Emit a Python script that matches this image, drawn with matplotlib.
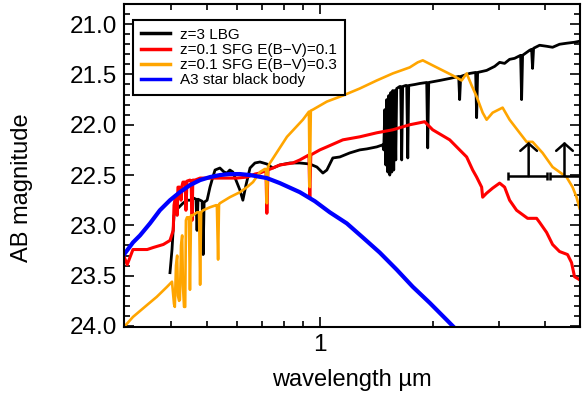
import matplotlib
matplotlib.use('Agg')
import matplotlib.pyplot as plt
from matplotlib.ticker import MultipleLocator, LogLocator, NullFormatter, FixedLocator, FixedFormatter

plt.rcParams['font.family'] = ['Liberation Sans', 'DejaVu Sans']

#------------------------------------------------------------------------#
# Spectra (wavelength in micron, AB magnitude)
#------------------------------------------------------------------------#

# z=3 LBG
lbg_wave = [0.398, 0.403, 0.408, 0.418, 0.431, 0.442, 0.450, 0.461, 0.467, 0.470,
            0.473, 0.485, 0.488, 0.491, 0.500, 0.509, 0.519, 0.525, 0.541, 0.555,
            0.565, 0.575, 0.586, 0.597, 0.612, 0.623, 0.635, 0.651, 0.671, 0.692,
            0.722, 0.749, 0.782, 0.832, 0.884, 0.940, 0.982, 1.019, 1.044, 1.083,
            1.131, 1.202, 1.278, 1.335, 1.419, 1.472, 1.481, 1.491, 1.500, 1.509,
            1.518, 1.528, 1.537, 1.547, 1.556, 1.566, 1.575, 1.585, 1.595, 1.604,
            1.634, 1.644, 1.654, 1.664, 1.695, 1.706, 1.717, 1.727, 1.792, 1.848,
            1.929, 1.941, 1.953, 2.089, 2.222, 2.348, 2.362, 2.377, 2.512, 2.606,
            2.622, 2.638, 2.788, 2.929, 3.020, 3.114, 3.211, 3.311, 3.436, 3.457,
            3.478, 3.631, 3.676, 3.698, 3.721, 3.861, 4.031, 4.182, 4.365, 4.557,
            4.786, 4.935]
lbg_mag = [23.47, 23.24, 22.90, 22.83, 22.78, 22.75, 22.75, 22.73, 22.74, 23.05,
           22.74, 22.76, 23.29, 22.77, 22.75, 22.62, 22.51, 22.45, 22.43, 22.47,
           22.48, 22.45, 22.47, 22.55, 22.65, 22.75, 22.60, 22.43, 22.38, 22.37,
           22.39, 22.43, 22.40, 22.38, 22.38, 22.39, 22.42, 22.48, 22.45, 22.33,
           22.32, 22.28, 22.25, 22.24, 22.22, 22.20, 22.25, 21.85, 22.40, 21.75,
           22.47, 21.71, 22.50, 21.68, 22.47, 21.66, 22.45, 21.66, 22.35, 21.64,
           21.62, 21.62, 22.35, 21.62, 21.61, 21.61, 22.33, 21.61, 21.60, 21.59,
           21.58, 22.23, 21.58, 21.56, 21.54, 21.52, 21.75, 21.52, 21.49, 21.48,
           21.93, 21.48, 21.46, 21.42, 21.38, 21.39, 21.35, 21.34, 21.31, 21.75,
           21.31, 21.26, 21.25, 21.44, 21.24, 21.21, 21.22, 21.23, 21.20, 21.19,
           21.18, 21.17]

# z=0.1 SFG, E(B-V)=0.1
sfg1_wave = [0.300, 0.306, 0.317, 0.346, 0.359, 0.382, 0.398, 0.406, 0.408, 0.410,
             0.413, 0.416, 0.418, 0.423, 0.426, 0.429, 0.431, 0.437, 0.439, 0.442,
             0.450, 0.453, 0.456, 0.458, 0.464, 0.479, 0.509, 0.541, 0.601, 0.639,
             0.671, 0.692, 0.713, 0.718, 0.722, 0.727, 0.782, 0.847, 0.884, 0.935,
             0.940, 0.946, 1.000, 1.044, 1.152, 1.278, 1.419, 1.566, 1.738, 1.848,
             1.905, 2.001, 2.222, 2.362, 2.466, 2.559, 2.622, 2.704, 2.721, 2.788,
             2.893, 3.020, 3.114, 3.211, 3.352, 3.587, 3.791, 3.861, 4.031, 4.182,
             4.365, 4.585, 4.699, 4.786, 4.935]
sfg1_mag = [23.31, 23.39, 23.24, 23.24, 23.22, 23.19, 23.15, 23.05, 22.80, 22.75,
            22.70, 22.90, 22.62, 22.62, 22.75, 22.60, 22.57, 22.57, 22.85, 22.56,
            22.55, 22.56, 22.95, 22.55, 22.55, 22.53, 22.53, 22.53, 22.53, 22.52,
            22.49, 22.48, 22.46, 22.46, 22.88, 22.45, 22.40, 22.38, 22.35, 22.30,
            22.72, 22.30, 22.25, 22.22, 22.15, 22.12, 22.08, 22.05, 22.00, 21.98,
            21.97, 22.05, 22.15, 22.25, 22.32, 22.45, 22.52, 22.62, 22.72, 22.68,
            22.63, 22.58, 22.62, 22.75, 22.85, 22.93, 22.93, 22.97, 23.07, 23.19,
            23.26, 23.29, 23.37, 23.51, 23.54]

# z=0.1 SFG, E(B-V)=0.3
sfg3_wave = [0.300, 0.317, 0.346, 0.367, 0.391, 0.403, 0.408, 0.410, 0.413, 0.416,
             0.418, 0.421, 0.423, 0.426, 0.429, 0.431, 0.434, 0.437, 0.439, 0.442,
             0.447, 0.450, 0.453, 0.458, 0.470, 0.476, 0.479, 0.482, 0.488, 0.509,
             0.528, 0.531, 0.535, 0.538, 0.541, 0.575, 0.612, 0.639, 0.663, 0.692,
             0.713, 0.718, 0.722, 0.727, 0.736, 0.817, 0.901, 0.935, 0.940, 0.946,
             0.958, 1.044, 1.152, 1.278, 1.419, 1.566, 1.738, 1.825, 1.883, 2.001,
             2.128, 2.263, 2.391, 2.466, 2.543, 2.622, 2.721, 2.788, 2.893, 3.076,
             3.211, 3.415, 3.565, 3.698, 3.933, 4.182, 4.557, 4.729, 4.846, 4.935]
sfg3_mag = [24.01, 23.91, 23.79, 23.71, 23.61, 23.56, 23.78, 23.81, 23.40, 23.30,
            23.70, 23.75, 23.74, 23.20, 23.10, 23.60, 23.81, 23.81, 22.95, 22.92,
            22.92, 23.64, 22.90, 22.90, 22.87, 22.87, 23.59, 22.87, 22.85, 22.82,
            22.80, 22.80, 23.34, 22.79, 22.78, 22.72, 22.67, 22.62, 22.57, 22.47,
            22.44, 22.44, 22.78, 22.42, 22.38, 22.12, 21.95, 21.87, 22.62, 21.86,
            21.85, 21.77, 21.71, 21.64, 21.56, 21.49, 21.43, 21.38, 21.36, 21.41,
            21.46, 21.51, 21.56, 21.49, 21.61, 21.72, 21.88, 21.95, 21.88, 21.83,
            21.95, 22.08, 22.17, 22.17, 22.28, 22.42, 22.52, 22.62, 22.72, 22.83]

# A3 star black body
bb_wave = [0.300, 0.317, 0.331, 0.352, 0.374, 0.398, 0.423, 0.450, 0.479, 0.509,
           0.541, 0.575, 0.612, 0.651, 0.722, 0.782, 0.884, 0.970, 1.063, 1.180,
           1.302, 1.445, 1.604, 1.770, 1.965, 2.182, 2.291]
bb_mag = [23.29, 23.17, 23.10, 22.98, 22.85, 22.75, 22.67, 22.60, 22.55, 22.52,
          22.50, 22.49, 22.49, 22.50, 22.53, 22.58, 22.67, 22.76, 22.87, 22.98,
          23.12, 23.27, 23.44, 23.61, 23.77, 23.94, 24.02]

# lower limits (band centre, band edges, magnitude)
limit_wave = [3.61, 4.50]
limit_lo = [3.17, 4.11]
limit_hi = [4.03, 5.05]
limit_mag = [22.51, 22.51]

labels = ['z=3 LBG', 'z=0.1 SFG E(B\u2212V)=0.1', 'z=0.1 SFG E(B\u2212V)=0.3',
          'A3 star black body']

#------------------------------------------------------------------------#
# Plot
#------------------------------------------------------------------------#

fig = plt.figure(figsize=(5.82, 3.93), dpi=100)
ax = fig.add_axes([124/582, 1 - 327/393, 456/582, 323/393])

ax.plot(lbg_wave, lbg_mag, color='black', lw=2.0, label=labels[0])
ax.plot(sfg1_wave, sfg1_mag, color='red', lw=2.2, label=labels[1])
ax.plot(sfg3_wave, sfg3_mag, color='orange', lw=1.9, label=labels[2])
ax.plot(bb_wave, bb_mag, color='blue', lw=3.0, label=labels[3])

xerr = [[w - lo for w, lo in zip(limit_wave, limit_lo)],
        [hi - w for w, hi in zip(limit_wave, limit_hi)]]
ax.errorbar(limit_wave, limit_mag, xerr=xerr, fmt='none', ecolor='black',
            elinewidth=1.8, capsize=3, capthick=1.8)
for w, m in zip(limit_wave, limit_mag):
    ax.annotate('', xy=(w, m - 0.34), xytext=(w, m),
                arrowprops=dict(arrowstyle='->,head_length=0.22,head_width=0.25',
                                color='black', lw=1.8, mutation_scale=24,
                                shrinkA=0, shrinkB=0))

ax.set_xscale('log')
ax.set_xlim(0.3, 4.95)
ax.set_ylim(24.01, 20.80)

ax.xaxis.set_major_locator(FixedLocator([1.0]))
ax.xaxis.set_major_formatter(FixedFormatter(['1']))
ax.xaxis.set_minor_locator(LogLocator(base=10, subs=range(2, 10)))
ax.xaxis.set_minor_formatter(NullFormatter())
ax.yaxis.set_major_locator(MultipleLocator(0.5))
ax.yaxis.set_minor_locator(MultipleLocator(0.1))
ax.yaxis.set_major_formatter(plt.FormatStrFormatter('%.1f'))

ax.tick_params(which='both', direction='in', top=True, right=True, width=1.2,
               labelsize=17.5)
ax.tick_params(which='major', length=7, pad=5)
ax.tick_params(which='minor', length=4)
for s in ax.spines.values():
    s.set_linewidth(1.5)

ax.set_xlabel('wavelength \u00b5m', fontsize=17)
ax.set_ylabel('AB magnitude', fontsize=17)
ax.xaxis.set_label_coords(0.5, -0.13)
ax.yaxis.set_label_coords(-0.20, 0.43)

leg = ax.legend(loc='upper left', bbox_to_anchor=(0.02, 0.95), borderaxespad=0,
                fontsize=11, labelspacing=0.08, handlelength=1.9,
                handletextpad=0.7, borderpad=0.5, fancybox=False,
                framealpha=1, edgecolor='black')
leg.get_frame().set_linewidth(1.5)
for h in leg.get_lines():
    h.set_linewidth(2.5)

plt.savefig('out.png', dpi=100)
